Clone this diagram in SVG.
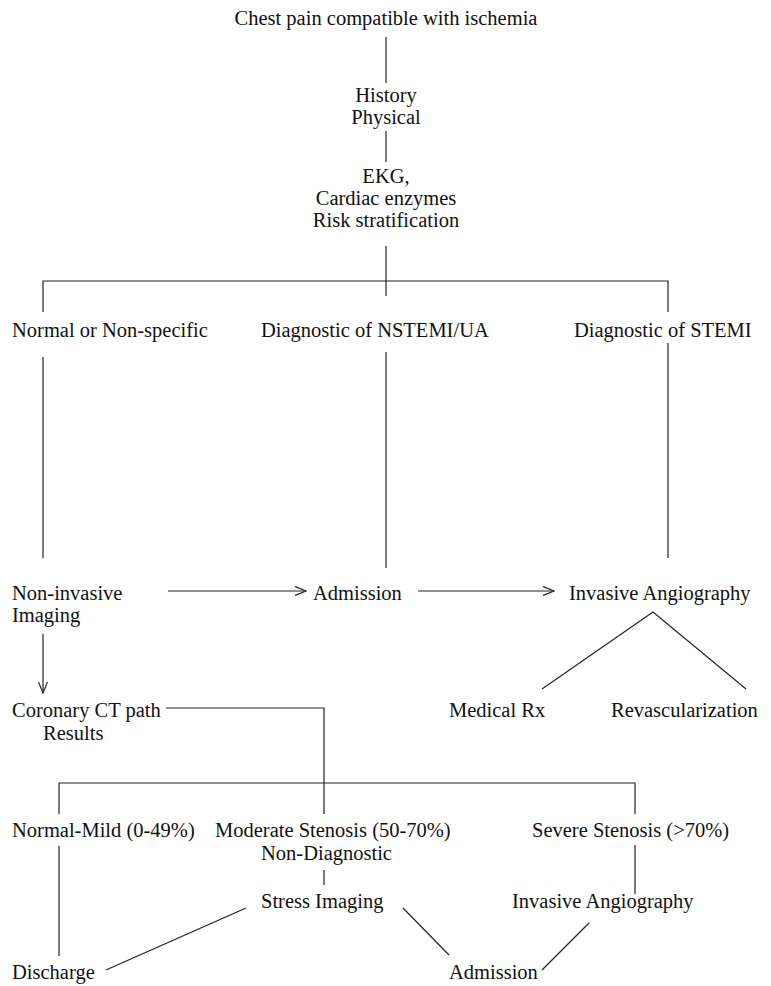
<svg xmlns="http://www.w3.org/2000/svg" width="771" height="986" viewBox="0 0 771 986">
<style>
text{font-family:"Liberation Serif","Times New Roman",serif;font-size:20.5px;fill:#111}
.m{text-anchor:middle}
.c line,.c polyline{stroke:#222;stroke-width:1.2;fill:none}
</style>
<defs>
<marker id="ah" viewBox="0 0 12 10" refX="11" refY="5" markerWidth="12" markerHeight="10" markerUnits="userSpaceOnUse" orient="auto">
<polyline points="0,0.5 11,5 0,9.5" fill="none" stroke="#222" stroke-width="1.2"/>
</marker>
</defs>
<rect width="771" height="986" fill="#fff"/>
<g id="n-chest"><text class="m" x="386" y="25">Chest pain compatible with ischemia</text></g>
<g id="n-history"><text class="m" x="386" y="102">History</text><text class="m" x="386" y="124">Physical</text></g>
<g id="n-ekg"><text class="m" x="386" y="183">EKG,</text><text class="m" x="386" y="205">Cardiac enzymes</text><text class="m" x="386" y="227">Risk stratification</text></g>
<g id="n-normal"><text x="12" y="337">Normal or Non-specific</text></g>
<g id="n-nstemi"><text x="261" y="337">Diagnostic of NSTEMI/UA</text></g>
<g id="n-stemi"><text x="574" y="337">Diagnostic of STEMI</text></g>
<g id="n-noninv"><text x="12" y="600">Non-invasive</text><text x="12" y="622">Imaging</text></g>
<g id="n-admission1"><text x="313" y="600">Admission</text></g>
<g id="n-angio1"><text x="569" y="600">Invasive Angiography</text></g>
<g id="n-ct"><text x="12" y="717">Coronary CT path</text><text x="43" y="740">Results</text></g>
<g id="n-medrx"><text x="449" y="717">Medical Rx</text></g>
<g id="n-revasc"><text x="611" y="717">Revascularization</text></g>
<g id="n-mild"><text x="12" y="837">Normal-Mild (0-49%)</text></g>
<g id="n-moderate"><text x="215" y="837">Moderate Stenosis (50-70%)</text><text x="261" y="860">Non-Diagnostic</text></g>
<g id="n-severe"><text x="532" y="837">Severe Stenosis (&gt;70%)</text></g>
<g id="n-stress"><text x="261" y="908">Stress Imaging</text></g>
<g id="n-angio2"><text x="512" y="908">Invasive Angiography</text></g>
<g id="n-discharge"><text x="12" y="979">Discharge</text></g>
<g id="n-admission2"><text x="449" y="979">Admission</text></g>
<g id="connectors" class="c">
<line x1="386" y1="37" x2="386" y2="83"/>
<line x1="386" y1="131" x2="386" y2="162"/>
<line x1="386" y1="246" x2="386" y2="296"/>
<polyline points="43,312 43,281 668,281 668,312"/>
<line x1="43" y1="357" x2="43" y2="558"/>
<line x1="386" y1="352" x2="386" y2="568"/>
<line x1="668" y1="343" x2="668" y2="558"/>
<line x1="168" y1="591" x2="306" y2="591" marker-end="url(#ah)"/>
<line x1="418" y1="591" x2="554" y2="591" marker-end="url(#ah)"/>
<polyline points="542,689 653,612 746,689"/>
<line x1="43" y1="634" x2="43" y2="693" marker-end="url(#ah)"/>
<polyline points="166,708 324,708 324,814"/>
<polyline points="59,814 59,783 635,783 635,814"/>
<line x1="59" y1="846" x2="59" y2="956"/>
<line x1="324" y1="870" x2="324" y2="885"/>
<line x1="635" y1="845" x2="635" y2="894"/>
<line x1="246" y1="908" x2="106" y2="970"/>
<line x1="403" y1="908" x2="449" y2="955"/>
<line x1="589" y1="923" x2="542" y2="970"/>
</g>
</svg>
